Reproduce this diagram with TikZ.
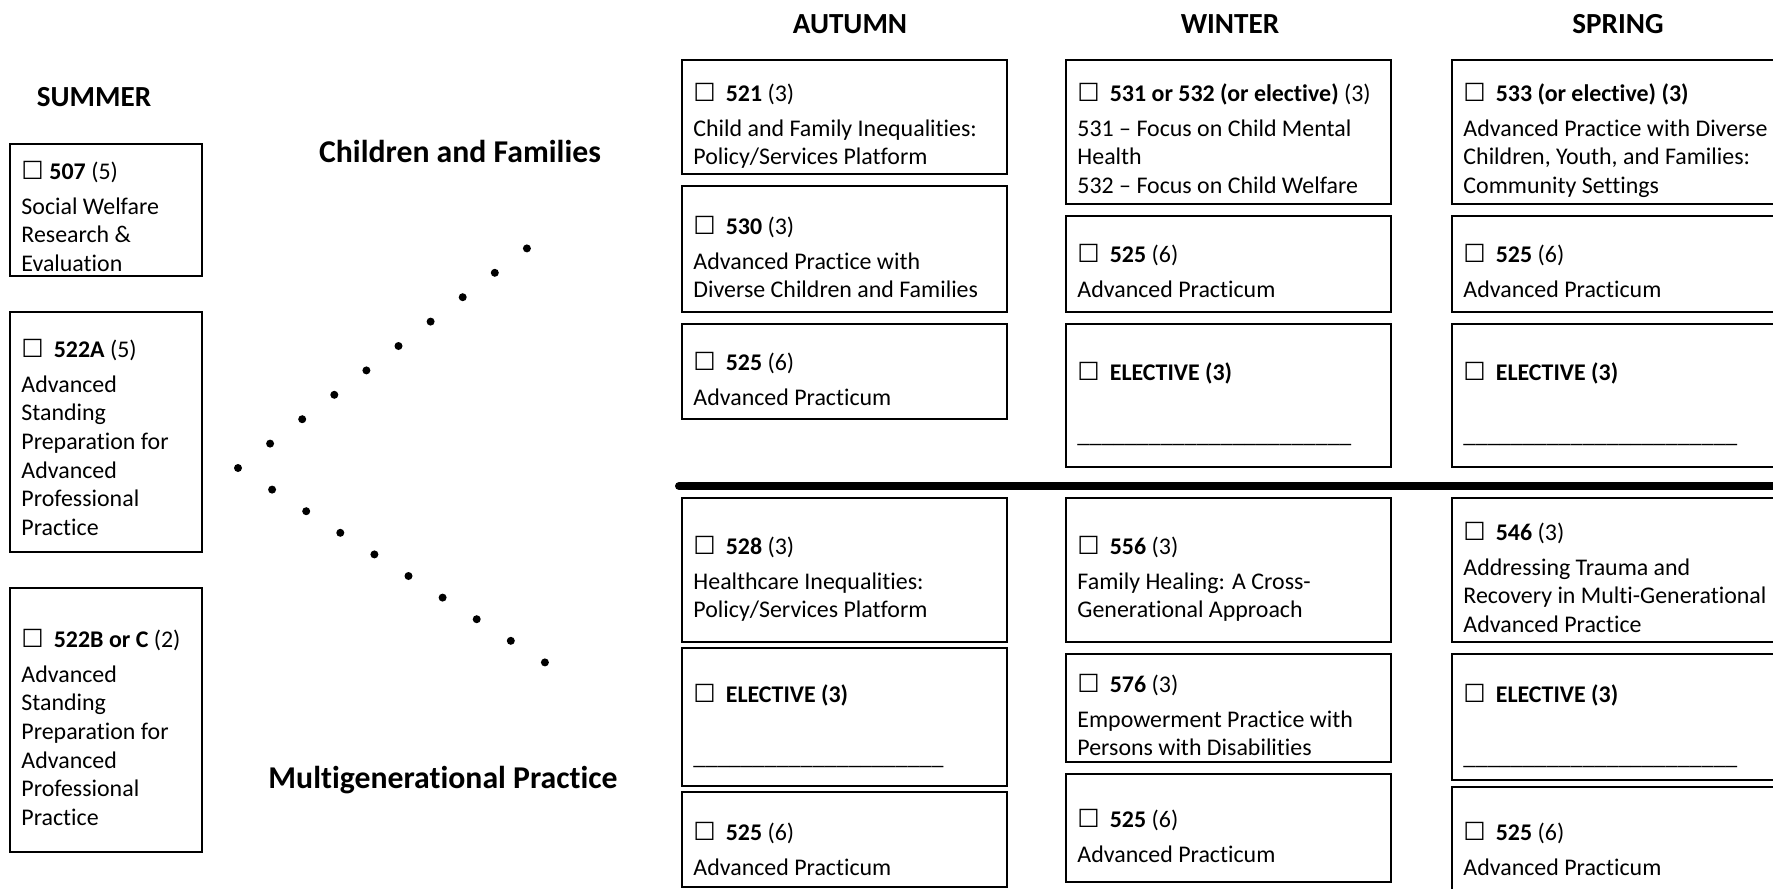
\documentclass[tikz,border=0pt]{standalone}
\usepackage{fontspec}
\setmainfont{Carlito}[Ligatures={NoCommon}]
\newfontfamily\tickfont{DejaVu Sans}
\usetikzlibrary{positioning}

\newlength\unitpx
\setlength\unitpx{0.46pt}
\newcommand\tick[0]{{\tickfont\fontsize{11.5}{11.5}\selectfont ☐}\hspace{4.6pt}}
\newcommand\course[7]{%
  \node[box, anchor=north west, minimum width={#3*\unitpx}, minimum height={(#5-#4)*\unitpx}] (#1) at (#2,#4) {};
  \node[coursetext, anchor=north west] (#1text) at (#2+11,#6-20.1) {\strut#7};
}

\tikzset{
  box/.style={draw=black, line width={2*\unitpx}, inner sep=0pt, outer sep=0pt},
  coursetext/.style={inner sep=0pt, align=left, font=\fontsize{11}{13.2}\selectfont},
  season/.style={font=\fontsize{13.4}{16}\selectfont\bfseries, inner sep=0pt, anchor=base},
  track/.style={font=\fontsize{14.6}{17}\selectfont\bfseries, inner sep=0pt, anchor=base},
  divider/.style={line width={8*\unitpx}, line cap=round},
}

\begin{document}
\begin{tikzpicture}[x=\unitpx, y=-\unitpx]

\clip (0,0) rectangle (1773,888);
\fill[white] (0,0) rectangle (1773,888);

% headings
\node[season] (summer) at (94,106) {SUMMER};
\node[season] (autumn) at (850,33) {AUTUMN};
\node[season] (winter) at (1230,33) {WINTER};
\node[season] (spring) at (1618,33) {SPRING};
\node[track] (children) at (460,162) {Children and Families};
\node[track] (multigen) at (443,788) {Multigenerational Practice};

% summer
\course{s507}{10}{192}{144}{276}{179}{\tick\hspace{-2pt}\textbf{507} (5)\\[2.8pt]Social Welfare\\Research \&\\Evaluation}
\course{s522a}{10}{192}{312}{552}{357}{\tick\textbf{522A} (5)\\[2.8pt]Advanced\\Standing\\Preparation for\\Advanced\\Professional\\Practice}
\course{s522b}{10}{192}{588}{852}{647}{\tick\textbf{522B or C} (2)\\[2.8pt]Advanced\\Standing\\Preparation for\\Advanced\\Professional\\Practice}

% dots
\fill (238,468) circle (4);
\foreach \i in {1,...,9}{
  \fill (238+32.1*\i,468-24.4*\i) circle (4);
  \fill (238+34.1*\i,468+21.6*\i) circle (4);
}

% autumn
\course{a521}{682}{325}{60}{174}{101}{\tick\textbf{521} (3)\\[2.8pt]Child and Family Inequalities:\\Policy/Services Platform}
\course{a530}{682}{325}{186}{312}{234}{\tick\textbf{530} (3)\\[2.8pt]Advanced Practice with\\Diverse Children and Families}
\course{a525}{682}{325}{324}{419}{370}{\tick\textbf{525} (6)\\[2.8pt]Advanced Practicum}
\course{a528}{682}{325}{498}{642}{554}{\tick\textbf{528} (3)\\[2.8pt]Healthcare Inequalities:\\Policy/Services Platform}
\course{aelec}{682}{325}{648}{786}{702}{\tick\textbf{ELECTIVE (3)}\\[15.3pt]\_\_\_\_\_\_\_\_\_\_\_\_\_\_\_\_\_\_\_\_\_}
\course{a525b}{682}{325}{792}{887}{840}{\tick\textbf{525} (6)\\[2.8pt]Advanced Practicum}

% winter
\course{w531}{1066}{325}{60}{204}{101}{\tick\textbf{531 or 532 (or elective)} (3)\\[2.8pt]531 – Focus on Child Mental\\Health\\532 – Focus on Child Welfare}
\course{w525}{1066}{325}{216}{312}{262}{\tick\textbf{525} (6)\\[2.8pt]Advanced Practicum}
\course{welec}{1066}{325}{324}{467}{380}{\tick\textbf{ELECTIVE (3)}\\[15.3pt]\_\_\_\_\_\_\_\_\_\_\_\_\_\_\_\_\_\_\_\_\_\_\_}
\course{w556}{1066}{325}{498}{642}{554}{\tick\textbf{556} (3)\\[2.8pt]Family Healing: A Cross-\\Generational Approach}
\course{w576}{1066}{325}{654}{762}{692}{\tick\textbf{576} (3)\\[2.8pt]Empowerment Practice with\\Persons with Disabilities}
\course{w525b}{1066}{325}{774}{882}{827}{\tick\textbf{525} (6)\\[2.8pt]Advanced Practicum}

% spring
\course{p533}{1452}{326}{60}{204}{101}{\tick\textbf{533 (or elective) (3)}\\[2.8pt]Advanced Practice with Diverse\\Children, Youth, and Families:\\Community Settings}
\course{p525}{1452}{326}{216}{312}{262}{\tick\textbf{525} (6)\\[2.8pt]Advanced Practicum}
\course{pelec}{1452}{326}{324}{467}{380}{\tick\textbf{ELECTIVE (3)}\\[15.3pt]\_\_\_\_\_\_\_\_\_\_\_\_\_\_\_\_\_\_\_\_\_\_\_}
\course{p546}{1452}{326}{498}{642}{540}{\tick\textbf{546} (3)\\[2.8pt]Addressing Trauma and\\Recovery in Multi-Generational\\Advanced Practice}
\course{pelecb}{1452}{326}{654}{780}{702}{\tick\textbf{ELECTIVE (3)}\\[15.3pt]\_\_\_\_\_\_\_\_\_\_\_\_\_\_\_\_\_\_\_\_\_\_\_}
\course{p525b}{1452}{326}{787}{895}{840}{\tick\textbf{525} (6)\\[2.8pt]Advanced Practicum}

% divider between the two tracks
\coordinate (split-l) at (679,486);
\coordinate (split-r) at (1790,486);
\draw[divider] (split-l) -- (split-r);

\end{tikzpicture}
\end{document}
